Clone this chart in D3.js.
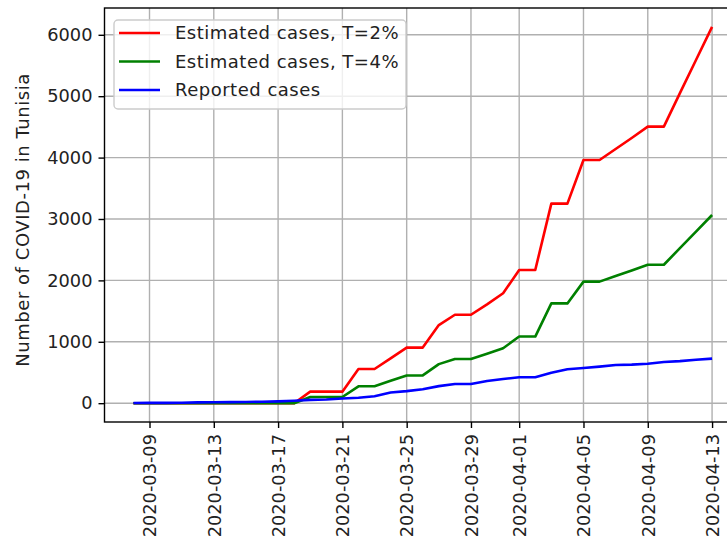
<!DOCTYPE html>
<html>
<head>
<meta charset="utf-8">
<script src="https://cdnjs.cloudflare.com/ajax/libs/d3/7.8.5/d3.min.js"></script>
<style>
body{margin:0;background:#fff;}
svg{display:block;font-family:"DejaVu Sans",sans-serif;}
</style>
</head>
<body>
<div id="root"></div>
<script>
// daily dates and the three series
var dates = ['2020-03-08','2020-03-09','2020-03-10','2020-03-11','2020-03-12','2020-03-13','2020-03-14',
  '2020-03-15','2020-03-16','2020-03-17','2020-03-18','2020-03-19','2020-03-20','2020-03-21','2020-03-22',
  '2020-03-23','2020-03-24','2020-03-25','2020-03-26','2020-03-27','2020-03-28','2020-03-29','2020-03-30',
  '2020-03-31','2020-04-01','2020-04-02','2020-04-03','2020-04-04','2020-04-05','2020-04-06','2020-04-07',
  '2020-04-08','2020-04-09','2020-04-10','2020-04-11','2020-04-12','2020-04-13'];

var est2 = [0,0,0,0,0,0,0,0,0,0,0,188,188,188,557,557,730,905,905,1272,1440,1440,1610,1790,
  2170,2170,3250,3250,3960,3960,4140,4320,4505,4505,5050,5590,6130];
var est4 = [0,0,0,0,0,0,0,0,0,0,0,100,100,100,275,275,365,452,452,636,720,720,805,895,
  1085,1085,1625,1625,1980,1980,2070,2160,2255,2255,2525,2795,3065];
var reported = [2,5,5,7,13,16,18,20,24,29,39,54,60,75,89,114,173,197,227,278,312,312,362,394,
  423,423,495,553,574,596,623,628,643,671,685,707,726];

var seriesNames = ['Estimated cases, T=2%','Estimated cases, T=4%','Reported cases'];
var seriesColors = ['#ff0000','#008000','#0000ff'];
var xTicks = ['2020-03-09','2020-03-13','2020-03-17','2020-03-21','2020-03-25','2020-03-29',
  '2020-04-01','2020-04-05','2020-04-09','2020-04-13'];
var yTicks = [0,1000,2000,3000,4000,5000,6000];
var yLabel = 'Number of COVID-19 in Tunisia';

var W=727, H=548;
var p={l:104.5,r:741,t:8,b:422};
var fs=17.8;

var parse=d3.utcParse('%Y-%m-%d');
var dd=dates.map(parse);
var allSeries=[est2,est4,reported];

var svg=d3.select('#root').append('svg').attr('width',W).attr('height',H);

// matplotlib style 5% margins
var x0=dd[0], x1=dd[dd.length-1];
var span=x1-x0;
var scaleX=d3.scaleUtc()
  .domain([new Date(+x0-span*0.05), new Date(+x1+span*0.05)])
  .range([p.l,p.r]);
var ymax=d3.max(allSeries,function(s){return d3.max(s)});
var scaleY=d3.scaleLinear().domain([-ymax*0.05, ymax*1.05]).range([p.b,p.t]);

// grid
var grid=svg.append('g').attr('stroke','#b0b0b0').attr('stroke-width',1.4);
grid.selectAll('.vg').data(xTicks).enter().append('line')
  .attr('x1',function(d){return scaleX(parse(d))}).attr('x2',function(d){return scaleX(parse(d))})
  .attr('y1',p.t).attr('y2',p.b);
grid.selectAll('.hg').data(yTicks).enter().append('line')
  .attr('x1',p.l).attr('x2',p.r)
  .attr('y1',function(d){return scaleY(d)}).attr('y2',function(d){return scaleY(d)});

// lines
var line=d3.line()
  .x(function(d,i){return scaleX(dd[i])})
  .y(function(d){return scaleY(d)});
svg.selectAll('.series').data(allSeries).enter().append('path')
  .attr('class','series')
  .attr('d',function(d){return line(d)})
  .attr('fill','none')
  .attr('stroke',function(d,i){return seriesColors[i]})
  .attr('stroke-width',2.6)
  .attr('stroke-linejoin','round');

// spines
svg.append('rect').attr('x',p.l).attr('y',p.t).attr('width',p.r-p.l).attr('height',p.b-p.t)
  .attr('fill','none').attr('stroke','#000').attr('stroke-width',1.4);

// axes
var xAxis=d3.axisBottom(scaleX).tickValues(xTicks.map(parse)).tickSize(6).tickPadding(6)
  .tickFormat(d3.utcFormat('%Y-%m-%d'));
var gx=svg.append('g').attr('transform','translate(0,'+p.b+')').call(xAxis);
gx.select('.domain').remove();
gx.selectAll('.tick line').attr('stroke','#000').attr('stroke-width',1.4);
gx.selectAll('.tick text')
  .attr('font-size',fs).attr('font-family','DejaVu Sans').attr('fill','#222')
  .attr('text-anchor','end')
  .attr('transform','rotate(-90)')
  .attr('x',-12).attr('y',0).attr('dy','0.35em');

var yAxis=d3.axisLeft(scaleY).tickValues(yTicks).tickSize(6).tickPadding(6).tickFormat(d3.format('d'));
var gy=svg.append('g').attr('transform','translate('+p.l+',0)').call(yAxis);
gy.select('.domain').remove();
gy.selectAll('.tick line').attr('stroke','#000').attr('stroke-width',1.4);
gy.selectAll('.tick text').attr('font-size',fs).attr('font-family','DejaVu Sans').attr('fill','#222');

svg.append('text').attr('transform','translate(29,'+((p.t+p.b)/2+5)+') rotate(-90)')
  .attr('text-anchor','middle').attr('font-size',18).attr('letter-spacing',0.55)
  .attr('fill','#222').text(yLabel);

// legend
var lg=svg.append('g').attr('transform','translate(114,20)');
lg.append('rect').attr('width',292).attr('height',89).attr('rx',4)
  .attr('fill','#fff').attr('fill-opacity',0.8).attr('stroke','#cccccc').attr('stroke-width',1.4);
var items=lg.selectAll('.li').data(seriesNames).enter().append('g')
  .attr('transform',function(d,i){return 'translate(0,'+(13+i*28.5)+')'});
items.append('line').attr('x1',5).attr('x2',46).attr('y1',0).attr('y2',0)
  .attr('stroke',function(d,i){return seriesColors[i]}).attr('stroke-width',2.6);
items.append('text').attr('x',61).attr('y',0).attr('dy','0.35em')
  .attr('font-size',18).attr('letter-spacing',0.5)
  .attr('fill','#222').text(function(d){return d});
</script>
</body>
</html>
